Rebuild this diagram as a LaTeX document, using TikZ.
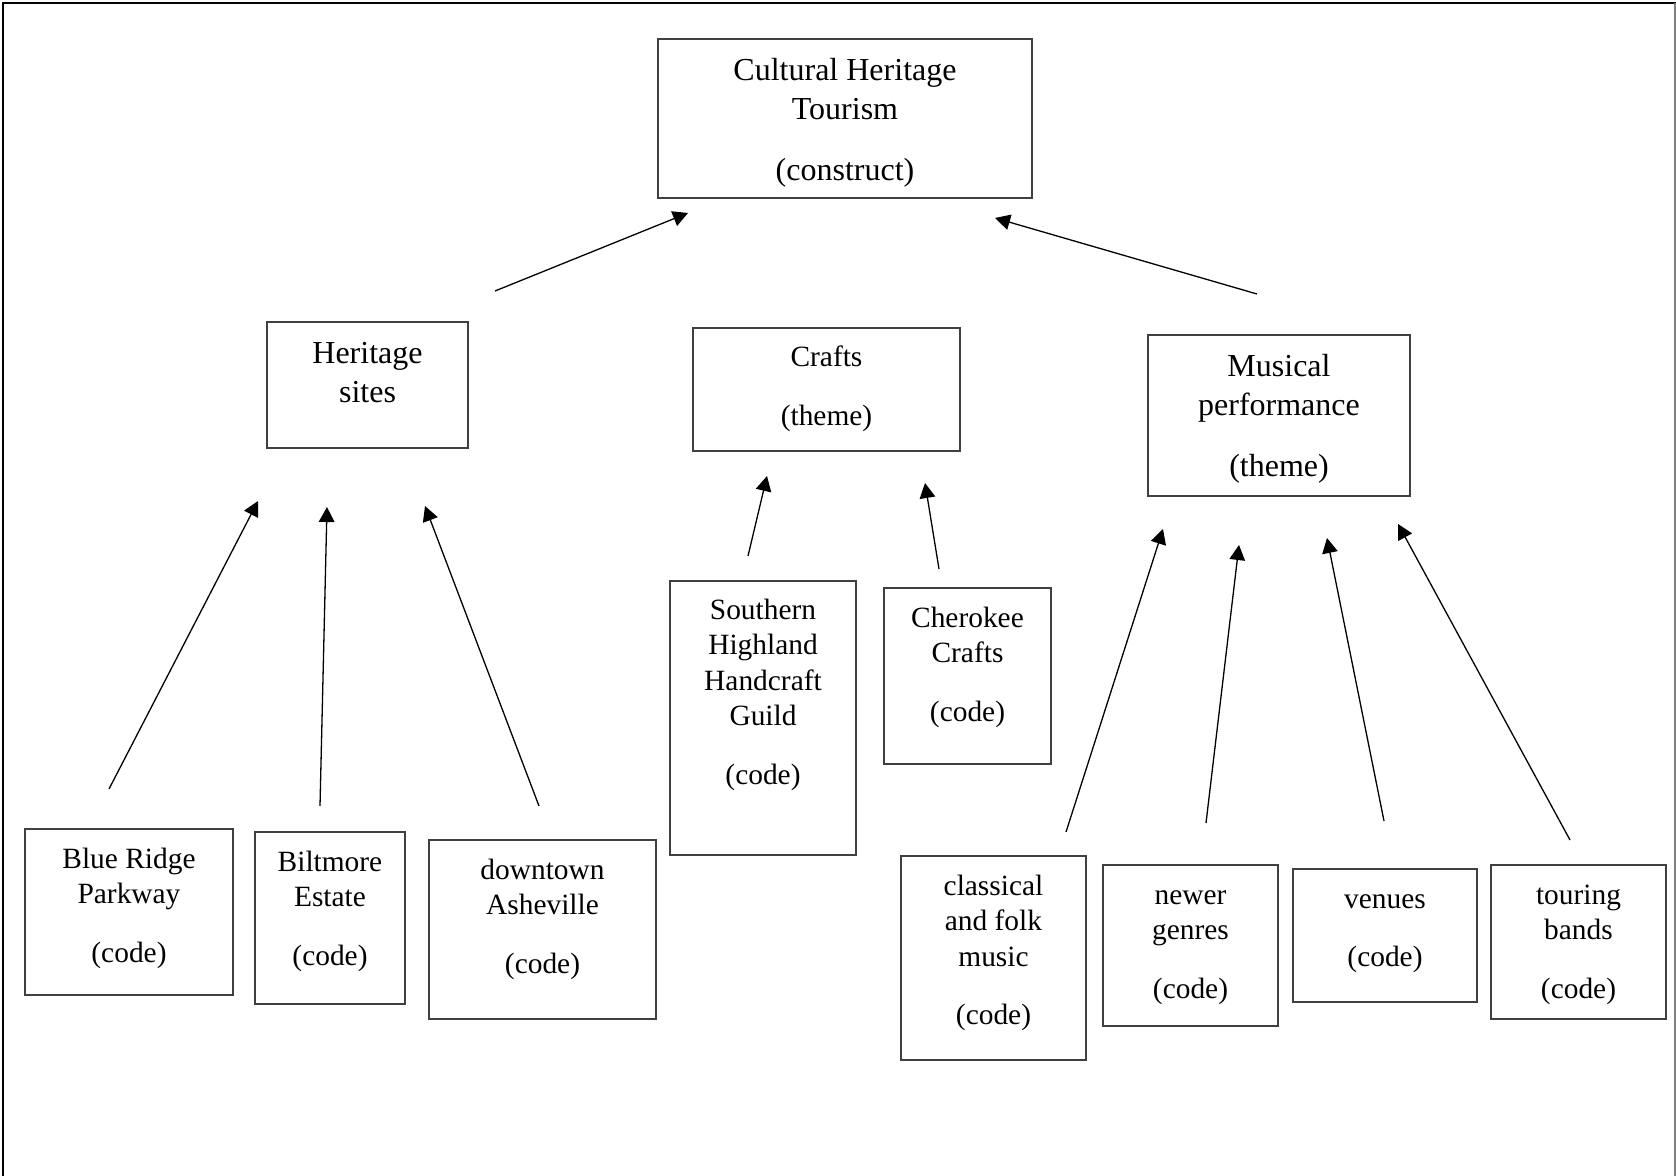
\documentclass[tikz,border=0pt]{standalone}
\usepackage{fontspec}
\setmainfont{Liberation Serif}
\usetikzlibrary{arrows.meta}

\newcommand\themefont{\fontsize{16}{19.5}\selectfont}
\newcommand\codefont{\fontsize{14.7}{17.8}\selectfont}
% \cbox{width}{height}{first baseline}{lines}: fixed-size box, text hung from the top
\newcommand\cbox[4]{\parbox[c][#2][t]{#1}{\centering\rule{0pt}{#3}#4}}

\begin{document}
\begin{tikzpicture}[x=0.5pt,y=-0.5pt,
  box/.style={draw=black!75, line width=0.8pt, inner sep=0pt, outer sep=0pt},
  link/.style={line width=0.65pt, -{Triangle[length=7.5pt,width=7.8pt]}}]
\useasboundingbox (0,0) rectangle (1676,1176);

% frame
\draw[line width=1.4pt] (3,1176) -- (3,3) -- (1676,3);
\draw[gray, line width=0.6pt] (1675,3) -- (1675,1176);

% construct
\node[box,font=\themefont] (tour) at (845,118.5)
  {\cbox{187pt}{79.5pt}{21pt}{Cultural Heritage\\Tourism\\[11pt](construct)}};

% themes
\node[box,font=\themefont] (heri) at (367.5,385)
  {\cbox{100.5pt}{63pt}{21pt}{Heritage\\sites}};
\node[box,font=\codefont] (craf) at (826.5,389.5)
  {\cbox{133.5pt}{61.5pt}{19.5pt}{Crafts\\[11.5pt](theme)}};
\node[box,font=\themefont] (musi) at (1279,415.5)
  {\cbox{131pt}{80.5pt}{21pt}{Musical\\performance\\[11pt](theme)}};

% codes
\node[box,font=\codefont] (blue) at (129,912)
  {\cbox{104pt}{83pt}{19.5pt}{Blue Ridge\\Parkway\\[11.5pt](code)}};
\node[box,font=\codefont] (bilt) at (330,918)
  {\cbox{75pt}{86pt}{19.5pt}{Biltmore\\Estate\\[11.5pt](code)}};
\node[box,font=\codefont] (down) at (542.5,929.5)
  {\cbox{113.5pt}{89.5pt}{19.5pt}{downtown\\Asheville\\[11.5pt](code)}};
\node[box,font=\codefont] (shhg) at (763,718)
  {\cbox{93pt}{137pt}{19pt}{Southern\\Highland\\Handcraft\\Guild\\[11.5pt](code)}};
\node[box,font=\codefont] (cher) at (967.5,676)
  {\cbox{83.5pt}{88pt}{19.5pt}{Cherokee\\Crafts\\[11.5pt](code)}};
\node[box,font=\codefont] (clas) at (993.5,958)
  {\cbox{92.5pt}{102pt}{19.5pt}{classical\\and folk\\music\\[11.5pt](code)}};
\node[box,font=\codefont] (newg) at (1190.5,945.5)
  {\cbox{87.5pt}{80.5pt}{19.5pt}{newer\\genres\\[11.5pt](code)}};
\node[box,font=\codefont] (venu) at (1385,935.5)
  {\cbox{92pt}{66.5pt}{19.5pt}{venues\\[11.5pt](code)}};
\node[box,font=\codefont] (tband) at (1578.5,942)
  {\cbox{87.5pt}{77pt}{19.5pt}{touring\\bands\\[11.5pt](code)}};

% free-floating arrow ends
\coordinate (heri-s) at (495,291);   \coordinate (tour-l) at (688,213);
\coordinate (musi-s) at (1257,294);  \coordinate (tour-r) at (995,218);
\coordinate (blue-s) at (109,789);   \coordinate (heri-a) at (258,501);
\coordinate (bilt-s) at (320,806);   \coordinate (heri-b) at (327,507);
\coordinate (down-s) at (539,806);   \coordinate (heri-c) at (425,506);
\coordinate (shhg-s) at (748,556);   \coordinate (craf-a) at (767,476);
\coordinate (cher-s) at (939,569);   \coordinate (craf-b) at (925,483);
\coordinate (clas-s) at (1066,832);  \coordinate (musi-a) at (1163,529);
\coordinate (newg-s) at (1206,823);  \coordinate (musi-b) at (1239,545);
\coordinate (venu-s) at (1384,821);  \coordinate (musi-c) at (1327,538);
\coordinate (tband-s) at (1570,840); \coordinate (musi-d) at (1398,524);

\draw[link] (heri-s) -- (tour-l);
\draw[link] (musi-s) -- (tour-r);
\draw[link] (blue-s) -- (heri-a);
\draw[link] (bilt-s) -- (heri-b);
\draw[link] (down-s) -- (heri-c);
\draw[link] (shhg-s) -- (craf-a);
\draw[link] (cher-s) -- (craf-b);
\draw[link] (clas-s) -- (musi-a);
\draw[link] (newg-s) -- (musi-b);
\draw[link] (venu-s) -- (musi-c);
\draw[link] (tband-s) -- (musi-d);
\end{tikzpicture}
\end{document}
